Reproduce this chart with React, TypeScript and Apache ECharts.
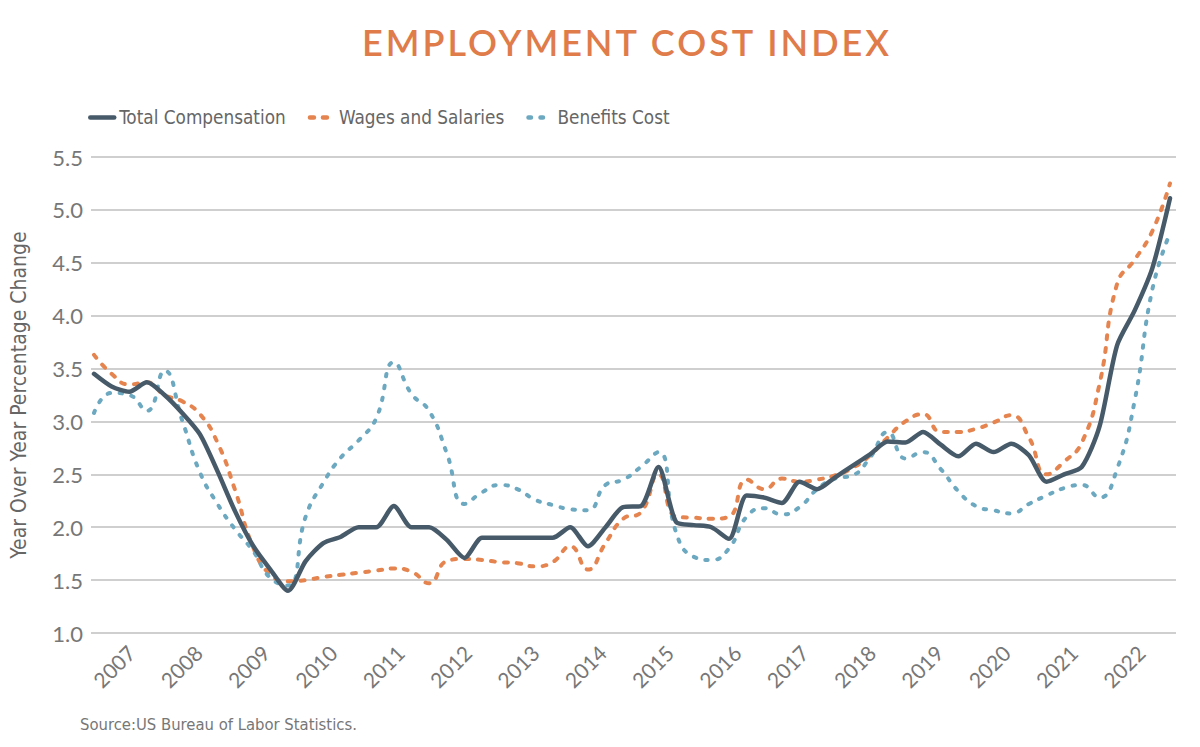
import React, { useEffect, useRef } from "react";
import * as echarts from "echarts";

// Quarterly year-over-year % change, 2007 Q1 .. 2022 Q2
const totalCompensation = [
  3.45, 3.33, 3.28, 3.37,
  3.25, 3.08, 2.88, 2.53,
  2.15, 1.83, 1.6, 1.4,
  1.68, 1.85, 1.91, 2.0,
  2.0, 2.2, 2.0, 2.0,
  1.88, 1.71, 1.9, 1.9,
  1.9, 1.9, 1.9, 2.0,
  1.82, 2.0, 2.19, 2.2,
  2.57, 2.05, 2.02, 2.0,
  1.89, 2.3, 2.28, 2.23,
  2.43, 2.36, 2.47, 2.58,
  2.69, 2.81, 2.8, 2.9,
  2.78, 2.67, 2.79, 2.71,
  2.79, 2.68, 2.43, 2.5,
  2.57, 2.95, 3.72, 4.05,
  4.45, 5.11,
];

const wagesAndSalaries = [
  3.63, 3.45, 3.35, 3.37,
  3.25, 3.19, 3.07, 2.8,
  2.35, 1.82, 1.55, 1.49,
  1.5, 1.53, 1.55, 1.57,
  1.59, 1.61, 1.58, 1.47,
  1.68, 1.7, 1.69, 1.67,
  1.66, 1.63, 1.67, 1.82,
  1.6, 1.85, 2.08, 2.14,
  2.5, 2.1, 2.09, 2.08,
  2.1, 2.45, 2.36, 2.46,
  2.43, 2.45, 2.49, 2.56,
  2.68, 2.85, 3.0, 3.07,
  2.9, 2.9, 2.93, 2.99,
  3.06, 2.85, 2.5, 2.62,
  2.8, 3.35, 4.3, 4.53,
  4.8, 5.25,
];

const benefitsCost = [
  3.08, 3.27, 3.25, 3.1,
  3.48, 3.01, 2.52, 2.22,
  1.98, 1.78, 1.52, 1.45,
  2.1, 2.42, 2.66, 2.82,
  3.03, 3.56, 3.26, 3.1,
  2.7, 2.22, 2.33, 2.4,
  2.36, 2.26, 2.21, 2.17,
  2.16, 2.4, 2.45, 2.57,
  2.71, 1.95, 1.72, 1.69,
  1.8, 2.1, 2.18, 2.12,
  2.19, 2.36, 2.46, 2.49,
  2.66, 2.9, 2.65, 2.71,
  2.55, 2.34, 2.2, 2.16,
  2.13, 2.22, 2.3, 2.37,
  2.4, 2.28, 2.55, 3.2,
  4.25, 4.78,
];

const yearLabels = [
  "2007", "2008", "2009", "2010", "2011", "2012", "2013", "2014",
  "2015", "2016", "2017", "2018", "2019", "2020", "2021", "2022",
];

const seriesNames = ["Total Compensation", "Wages and Salaries", "Benefits Cost"];
const titleText = "EMPLOYMENT COST INDEX";
const yAxisTitle = "Year Over Year Percentage Change";
const sourceText = "Source:US Bureau of Labor Statistics.";

const NARROW = '"Liberation Sans Narrow", "DejaVu Sans Condensed", sans-serif';
const TITLE_COLOR = "#E07B4A";

export default function App() {
  const ref = useRef<HTMLDivElement>(null);

  useEffect(() => {
    if (!ref.current) return;
    const chart = echarts.init(ref.current, undefined, { renderer: "svg" });
    const toPairs = (arr: number[]) => arr.map((v, i) => [i, v]);

    chart.setOption({
      animation: false,
      backgroundColor: "#ffffff",
      graphic: [
        {
          type: "text",
          x: 627,
          y: 42,
          style: {
            text: titleText,
            fill: TITLE_COLOR,
            fontSize: 36,
            fontWeight: 600,
            fontFamily: "Lato, sans-serif",
            align: "center",
            verticalAlign: "middle",
          },
        },
        {
          type: "text",
          x: 80,
          y: 724,
          style: {
            text: sourceText,
            fill: "#777777",
            fontSize: 16.5,
            fontFamily: NARROW,
            align: "left",
            verticalAlign: "middle",
          },
        },
      ],
      legend: {
        data: seriesNames,
        left: 88,
        top: 108,
        padding: 0,
        itemGap: 22,
        itemWidth: 24,
        itemHeight: 8,
        itemStyle: { opacity: 0 },
        lineStyle: { width: 4.5, cap: "round" },
        textStyle: { fontFamily: NARROW, fontSize: 18.8, color: "#666666" },
      },
      grid: [
        { left: 86, right: 24, top: 157, bottom: 114 },
        { left: 131, right: 59, top: 157, bottom: 114 },
      ],
      xAxis: [
        {
          type: "value",
          gridIndex: 0,
          min: -0.17,
          max: 61.34,
          axisLine: { show: false },
          axisTick: { show: false },
          axisLabel: { show: false },
          splitLine: { show: false },
        },
        {
          type: "category",
          gridIndex: 1,
          data: yearLabels,
          boundaryGap: false,
          axisLine: { show: false },
          axisTick: { show: false },
          splitLine: { show: false },
          axisLabel: {
            rotate: 45,
            margin: 16,
            fontSize: 21,
            color: "#777777",
            fontFamily: "Lato, sans-serif",
          },
        },
      ],
      yAxis: [
        {
          type: "value",
          gridIndex: 0,
          min: 1,
          max: 5.5,
          interval: 0.5,
          name: yAxisTitle,
          nameLocation: "middle",
          nameRotate: 90,
          nameGap: 62,
          nameTextStyle: { fontFamily: NARROW, fontSize: 21, color: "#666666" },
          axisLine: { show: false },
          axisTick: { show: false },
          axisLabel: {
            margin: 8,
            fontSize: 22,
            color: "#777777",
            fontFamily: "Lato, sans-serif",
            formatter: (v: number) => v.toFixed(1),
          },
          splitLine: { lineStyle: { color: "#cfcfcf", width: 2 } },
        },
        {
          type: "value",
          gridIndex: 1,
          min: 0,
          max: 1,
          show: false,
        },
      ],
      series: [
        {
          name: seriesNames[0],
          type: "line",
          xAxisIndex: 0,
          yAxisIndex: 0,
          data: toPairs(totalCompensation),
          symbol: "none",
          smooth: 0.25,
          z: 5,
          lineStyle: { color: "#465A69", width: 4.5, cap: "round", join: "round" },
          itemStyle: { color: "#465A69" },
        },
        {
          name: seriesNames[1],
          type: "line",
          xAxisIndex: 0,
          yAxisIndex: 0,
          data: toPairs(wagesAndSalaries),
          symbol: "none",
          smooth: 0.5,
          z: 3,
          lineStyle: { color: "#E5844F", width: 4, type: [4, 9], cap: "round", join: "round" },
          itemStyle: { color: "#E5844F" },
        },
        {
          name: seriesNames[2],
          type: "line",
          xAxisIndex: 0,
          yAxisIndex: 0,
          data: toPairs(benefitsCost),
          symbol: "none",
          smooth: 0.5,
          z: 4,
          lineStyle: { color: "#6CA9C0", width: 4, type: [2.5, 9.5], cap: "round", join: "round" },
          itemStyle: { color: "#6CA9C0" },
        },
      ],
    });

    return () => chart.dispose();
  }, []);

  return (
    <>
      <style>{`body{margin:0} text[fill="${TITLE_COLOR}" i]{letter-spacing:3px}`}</style>
      <div
        ref={ref}
        style={{ position: "fixed", left: 0, top: 0, width: 1200, height: 747, background: "#fff" }}
      />
    </>
  );
}
